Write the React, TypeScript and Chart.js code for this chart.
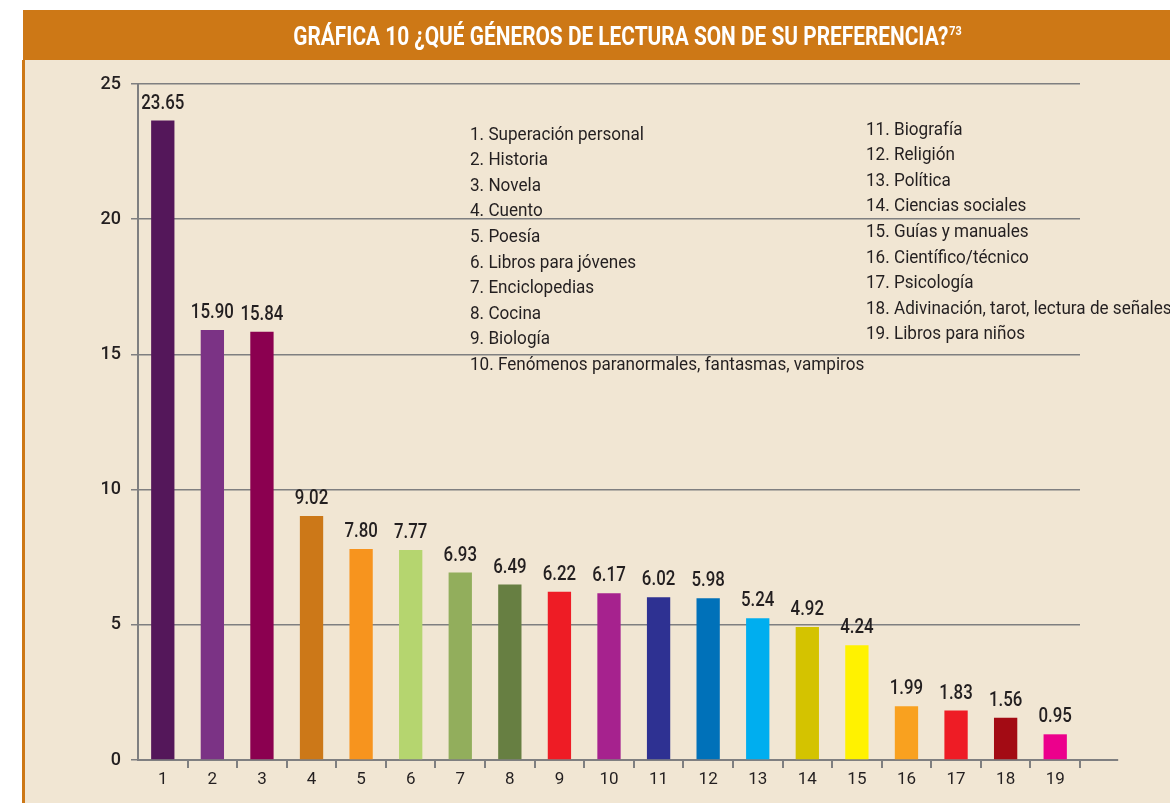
import React, { useEffect, useRef } from "react";
import { Chart, registerables } from "chart.js";

Chart.register(...registerables);

const categories = ["1", "2", "3", "4", "5", "6", "7", "8", "9", "10", "11", "12", "13", "14", "15", "16", "17", "18", "19"];
const values = [23.65, 15.9, 15.84, 9.02, 7.8, 7.77, 6.93, 6.49, 6.22, 6.17, 6.02, 5.98, 5.24, 4.92, 4.24, 1.99, 1.83, 1.56, 0.95];
const barColors = [
  "#54175A", "#7B3385", "#8B0050", "#CC7818", "#F7941E", "#B5D56F", "#92AE5C", "#677F42", "#EE1C25", "#A6228E",
  "#2E3192", "#0071B9", "#00AEEF", "#D4C300", "#FFF200", "#F9A11F", "#EE1C25", "#A30B14", "#EC008C",
];
const genresLeft = [
  "1. Superación personal",
  "2. Historia",
  "3. Novela",
  "4. Cuento",
  "5. Poesía",
  "6. Libros para jóvenes",
  "7. Enciclopedias",
  "8. Cocina",
  "9. Biología",
  "10. Fenómenos paranormales, fantasmas, vampiros",
];
const genresRight = [
  "11. Biografía",
  "12. Religión",
  "13. Política",
  "14. Ciencias sociales",
  "15. Guías y manuales",
  "16. Científico/técnico",
  "17. Psicología",
  "18. Adivinación, tarot, lectura de señales",
  "19. Libros para niños",
];
const yMax = 25;
const yStep = 5;
const titleText = "GRÁFICA 10 ¿QUÉ GÉNEROS DE LECTURA SON DE SU PREFERENCIA?";
const titleNote = "73";

const FONT = '"Roboto", "Liberation Sans", sans-serif';
const ORANGE = "#CD7816";
const BEIGE = "#F1E6D3";
const TEXT = "#231F20";
const GRID = "#7F7F80";

function drawScaled(ctx: any, text: string, x: number, y: number, sx: number) {
  ctx.save();
  ctx.translate(x, y);
  ctx.scale(sx, 1);
  ctx.fillText(text, 0, 0);
  ctx.restore();
}

const decorPlugin = {
  id: "decor",
  beforeDraw(chart: any) {
    const ctx = chart.ctx;
    const W = chart.width;
    const H = chart.height;
    ctx.save();
    ctx.fillStyle = "#FFFFFF";
    ctx.fillRect(0, 0, W, H);
    ctx.fillStyle = BEIGE;
    ctx.fillRect(23, 60, W - 23, H - 60);
    ctx.fillStyle = ORANGE;
    ctx.fillRect(23, 10, W - 23, 50);
    ctx.fillRect(22, 60, 3, H - 60);
    // title (condensed look)
    ctx.fillStyle = "#FFFFFF";
    ctx.textBaseline = "alphabetic";
    ctx.textAlign = "left";
    ctx.font = `bold 25px ${FONT}`;
    const rawW = ctx.measureText(titleText).width;
    const tsx = 655 / rawW;
    ctx.font = `bold 13px ${FONT}`;
    const nw = ctx.measureText(titleNote).width * tsx;
    const startX = 627 - (655 + nw) / 2;
    ctx.font = `bold 25px ${FONT}`;
    drawScaled(ctx, titleText, startX, 45, tsx);
    ctx.font = `bold 13px ${FONT}`;
    drawScaled(ctx, titleNote, startX + 656, 35, tsx);
    // legend
    ctx.fillStyle = TEXT;
    ctx.font = `18.5px ${FONT}`;
    ctx.textBaseline = "middle";
    const lsx = 174 / ctx.measureText(genresLeft[0]).width;
    genresLeft.forEach((g, i) => drawScaled(ctx, g, 470, 135 + i * 25.6, lsx));
    genresRight.forEach((g, i) => drawScaled(ctx, g, 866, 130 + i * 25.6, lsx));
    ctx.restore();
  },
  afterDraw(chart: any) {
    const ctx = chart.ctx;
    const area = chart.chartArea;
    const meta = chart.getDatasetMeta(0);
    ctx.save();
    // axis extension to the right
    const step = (area.right - area.left) / categories.length;
    ctx.strokeStyle = GRID;
    ctx.lineWidth = 2;
    ctx.beginPath();
    ctx.moveTo(area.right, area.bottom);
    ctx.lineTo(area.right + step * 0.77, area.bottom);
    ctx.stroke();
    // value labels
    ctx.fillStyle = TEXT;
    ctx.font = `500 20px ${FONT}`;
    ctx.textAlign = "center";
    ctx.textBaseline = "alphabetic";
    const vsx = 43 / ctx.measureText("23.65").width;
    meta.data.forEach((bar: any, i: number) => {
      drawScaled(ctx, values[i].toFixed(2), bar.x, bar.y - 12, vsx);
    });
    ctx.restore();
  },
};

export default function App() {
  const ref = useRef<HTMLCanvasElement>(null);
  useEffect(() => {
    if (!ref.current) return;
    const chart = new Chart(ref.current, {
      type: "bar",
      data: {
        labels: categories,
        datasets: [
          {
            data: values,
            backgroundColor: barColors,
            borderWidth: 0,
            barPercentage: 0.47,
            categoryPercentage: 1,
          },
        ],
      },
      options: {
        responsive: false,
        animation: false,
        devicePixelRatio: 1,
        layout: { padding: { left: 0, top: 84, right: 90, bottom: 0 } },
        plugins: { legend: { display: false }, tooltip: { enabled: false }, title: { display: false } },
        scales: {
          x: {
            offset: true,
            afterFit(scale: any) {
              scale.height = 43;
            },
            grid: {
              offset: true,
              drawOnChartArea: false,
              drawTicks: true,
              tickLength: 8,
              color: (c: any) => (c.index === 0 ? "rgba(0,0,0,0)" : GRID),
              lineWidth: 2,
            },
            border: { display: true, color: GRID, width: 2 },
            ticks: { color: TEXT, font: { family: FONT, size: 17 }, padding: 2, maxRotation: 0, autoSkip: false },
          },
          y: {
            min: 0,
            max: yMax,
            afterFit(scale: any) {
              scale.width = 138;
            },
            grid: { color: GRID, lineWidth: 1.5, drawTicks: true, tickLength: 7 },
            border: { display: true, color: GRID, width: 2 },
            ticks: { stepSize: yStep, color: TEXT, font: { family: FONT, size: 18, weight: "500" }, padding: 10 },
          },
        },
      },
      plugins: [decorPlugin],
    });
    return () => chart.destroy();
  }, []);
  return (
    <div style={{ position: "fixed", left: 0, top: 0, width: 1170, height: 803 }}>
      <canvas ref={ref} width={1170} height={803} style={{ display: "block", width: 1170, height: 803 }} />
    </div>
  );
}
